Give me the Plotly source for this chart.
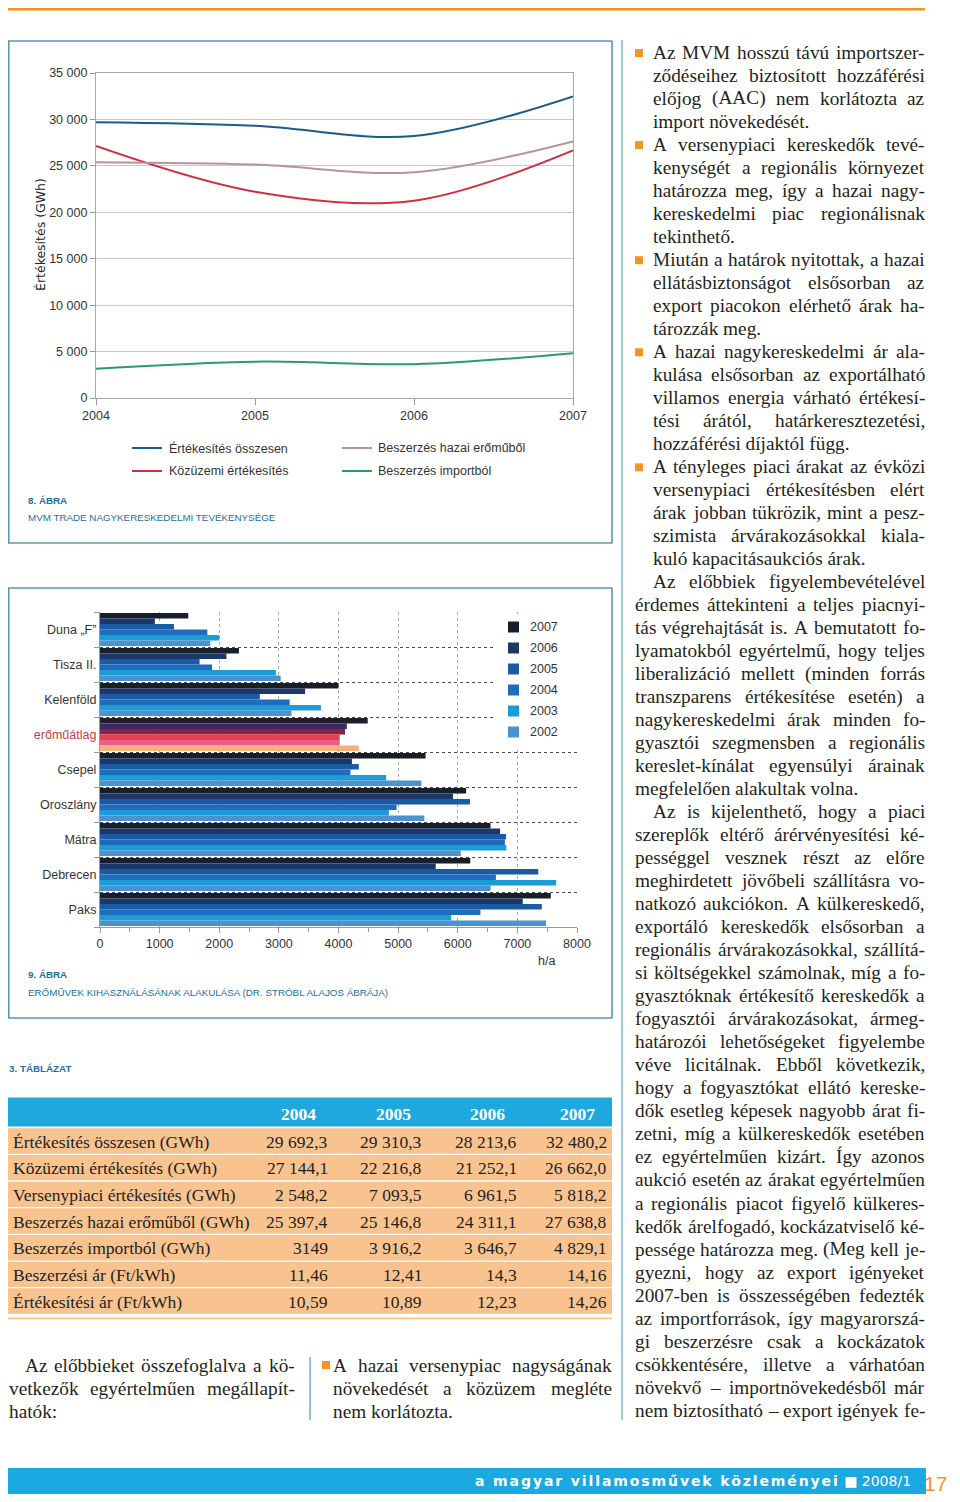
import plotly.graph_objects as go

# The page body adds an 8 px margin on every side; the figure is sized to fit inside
# the 960 x 1502 window and every coordinate below is a page pixel.
OFF = 8
W, H = 960 - 2 * OFF, 1502 - 2 * OFF
def X(px): return (px - OFF) / W
def Y(py): return 1 - (py - OFF) / H

COND = "Liberation Sans, Arial, sans-serif"
SERIF = "Liberation Serif, Times New Roman, serif"
CAP_BLUE = "#1b6ea4"
ORANGE = "#f7941d"
INK = "#231f20"
AXIS_TXT = "#333333"
AX_FS = 12.5
CAP_FS = 9.8

# ---------------- Figure 8 data ----------------
years = [2004, 2005, 2006, 2007]
series_names = ["Értékesítés összesen", "Közüzemi értékesítés",
                "Beszerzés hazai erőműből", "Beszerzés importból"]
sales_total = [29692.3, 29310.3, 28213.6, 32480.2]
public_sales = [27144.1, 22216.8, 21252.1, 26662.0]
domestic_purchase = [25397.4, 25146.8, 24311.1, 27638.8]
import_purchase = [3149.0, 3916.2, 3646.7, 4829.1]
line_colors = ["#1b5a8c", "#d3303f", "#b8929e", "#2a9c6c"]
y_tick_vals = [0, 5000, 10000, 15000, 20000, 25000, 30000, 35000]
y_tick_text = ["0", "5 000", "10 000", "15 000", "20 000", "25 000", "30 000", "35 000"]

# ---------------- Figure 9 data ----------------
plants = ["Duna „F”", "Tisza II.", "Kelenföld", "erőműátlag", "Csepel",
          "Oroszlány", "Mátra", "Debrecen", "Paks"]
bar_years = ["2007", "2006", "2005", "2004", "2003", "2002"]
util_2007 = [1480, 2330, 4000, 4490, 5460, 6140, 6550, 6210, 7560]
util_2006 = [920, 2120, 3440, 4140, 4225, 5920, 6710, 5630, 7090]
util_2005 = [1240, 1670, 2680, 4110, 4340, 6205, 6810, 7350, 7410]
util_2004 = [1800, 1880, 3180, 4020, 4200, 4975, 6790, 6640, 6380]
util_2003 = [2000, 2950, 3705, 4020, 4800, 4845, 6815, 7650, 5890]
util_2002 = [1850, 3030, 3210, 4340, 5390, 5440, 6050, 6550, 7480]
year_colors = ["#17202a", "#1c3768", "#1b5aa5", "#1f6cba", "#1b9bd8", "#4a93d0"]
avg_colors = ["#221d2b", "#3d2866", "#8d2142", "#e3414c", "#ea5c8c", "#f6b07b"]
x2_ticks = [0, 1000, 2000, 3000, 4000, 5000, 6000, 7000, 8000]

# ---------------- Table 3 data ----------------
table_header = ["2004", "2005", "2006", "2007"]
table_labels = ["Értékesítés összesen (GWh)", "Közüzemi értékesítés (GWh)",
                "Versenypiaci értékesítés (GWh)", "Beszerzés hazai erőműből (GWh)",
                "Beszerzés importból (GWh)", "Beszerzési ár (Ft/kWh)",
                "Értékesítési ár (Ft/kWh)"]
table_values = [
    ["29 692,3", "29 310,3", "28 213,6", "32 480,2"],
    ["27 144,1", "22 216,8", "21 252,1", "26 662,0"],
    ["2 548,2", "7 093,5", "6 961,5", "5 818,2"],
    ["25 397,4", "25 146,8", "24 311,1", "27 638,8"],
    ["3149", "3 916,2", "3 646,7", "4 829,1"],
    ["11,46", "12,41", "14,3", "14,16"],
    ["10,59", "10,89", "12,23", "14,26"],
]

# ---------------- body text ----------------
right_blocks = [
    ("b", ["Az MVM hosszú távú importszer-", "ződéseihez biztosított hozzáférési",
           "előjog (AAC) nem korlátozta az", "import növekedését."]),
    ("b", ["A versenypiaci kereskedők tevé-", "kenységét a regionális környezet",
           "határozza meg, így a hazai nagy-", "kereskedelmi piac regionálisnak", "tekinthető."]),
    ("b", ["Miután a határok nyitottak, a hazai", "ellátásbiztonságot elsősorban az",
           "export piacokon elérhető árak ha-", "tározzák meg."]),
    ("b", ["A hazai nagykereskedelmi ár ala-", "kulása elsősorban az exportálható",
           "villamos energia várható értékesí-", "tési árától, határkeresztezetési,",
           "hozzáférési díjaktól függ."]),
    ("b", ["A tényleges piaci árakat az évközi", "versenypiaci értékesítésben elért",
           "árak jobban tükrözik, mint a pesz-", "szimista árvárakozásokkal kiala-",
           "kuló kapacitásaukciós árak."]),
    ("p", ["Az előbbiek figyelembevételével", "érdemes áttekinteni a teljes piacnyi-",
           "tás végrehajtását is. A bemutatott fo-", "lyamatokból egyértelmű, hogy teljes",
           "liberalizáció mellett (minden forrás", "transzparens értékesítése esetén) a",
           "nagykereskedelmi árak minden fo-", "gyasztói szegmensben a regionális",
           "kereslet-kínálat egyensúlyi árainak", "megfelelően alakultak volna."]),
    ("pc", ["Az is kijelenthető, hogy a piaci", "szereplők eltérő árérvényesítési ké-",
            "pességgel vesznek részt az előre", "meghirdetett jövőbeli szállításra vo-",
            "natkozó aukciókon. A külkereskedő,", "exportáló kereskedők elsősorban a",
            "regionális árvárakozásokkal, szállítá-", "si költségekkel számolnak, míg a fo-",
            "gyasztóknak értékesítő kereskedők a", "fogyasztói árvárakozásokat, ármeg-",
            "határozói lehetőségeket figyelembe", "véve licitálnak. Ebből következik,",
            "hogy a fogyasztókat ellátó kereske-", "dők esetleg képesek nagyobb árat fi-",
            "zetni, míg a külkereskedők esetében", "ez egyértelműen kizárt. Így azonos",
            "aukció esetén az árakat egyértelműen", "a regionális piacot figyelő külkeres-",
            "kedők árelfogadó, kockázatviselő ké-", "pessége határozza meg. (Meg kell je-",
            "gyezni, hogy az export igényeket", "2007-ben is összességében fedezték",
            "az importforrások, így magyarorszá-", "gi beszerzésre csak a kockázatok",
            "csökkentésére, illetve a várhatóan", "növekvő – importnövekedésből már",
            "nem biztosítható – export igények fe-"]),
]
left_para = ["Az előbbieket összefoglalva a kö-", "vetkezők egyértelműen megállapít-", "hatók:"]
mid_bullet = ["A hazai versenypiac nagyságának", "növekedését a közüzem megléte", "nem korlátozta."]

# ---------------- helpers ----------------
anns, shapes = [], []

def ann(text, x, y, size, family, color=INK, xanchor="left", yanchor="middle", **kw):
    d = dict(text=text, x=X(x), y=Y(y), xref="paper", yref="paper", showarrow=False,
             xanchor=xanchor, yanchor=yanchor, borderpad=0, borderwidth=0,
             font=dict(size=size, family=family, color=color))
    d.update(kw)
    anns.append(d)

def rect(x0, y0, x1, y1, fill, layer="below", line=None):
    shapes.append(dict(type="rect", xref="paper", yref="paper", x0=X(x0), x1=X(x1),
                       y0=Y(y1), y1=Y(y0), fillcolor=fill, layer=layer,
                       line=line if line else dict(width=0)))

def seg(x0, y0, x1, y1, color, width, layer="below"):
    shapes.append(dict(type="line", xref="paper", yref="paper", x0=X(x0), x1=X(x1),
                       y0=Y(y0), y1=Y(y1), line=dict(color=color, width=width), layer=layer))

TW = {' ': 250, '!': 333, '(': 333, ')': 333, ',': 250, '-': 333, '.': 250, '/': 278,
      ':': 278, ';': 278, '?': 444, '–': 500,
      'A': 722, 'B': 667, 'C': 667, 'D': 722, 'E': 611, 'F': 556, 'G': 722, 'H': 722,
      'I': 333, 'J': 389, 'K': 722, 'L': 611, 'M': 889, 'N': 722, 'O': 722, 'P': 556,
      'Q': 722, 'R': 667, 'S': 556, 'T': 611, 'U': 722, 'V': 722, 'W': 944, 'X': 722,
      'Y': 722, 'Z': 611,
      'a': 444, 'b': 500, 'c': 444, 'd': 500, 'e': 444, 'f': 333, 'g': 500, 'h': 500,
      'i': 278, 'j': 278, 'k': 500, 'l': 278, 'm': 778, 'n': 500, 'o': 500, 'p': 500,
      'q': 500, 'r': 333, 's': 389, 't': 278, 'u': 500, 'v': 500, 'w': 722, 'x': 500,
      'y': 500, 'z': 444}
for dgt in "0123456789":
    TW[dgt] = 500
ACC = str.maketrans("áéíóöőúüűÁÉÍÓÖŐÚÜŰ", "aeiooouuuAEIOOOUUU")

def tw(s, fs):
    return sum(TW.get(c, 500) for c in s.translate(ACC)) / 1000.0 * fs

BODY_FS = 19.3

def text_line(text, x0, x1, y, justify, fs=BODY_FS):
    if not justify:
        ann(text, x0, y, fs, SERIF)
        return
    words = text.split(" ")
    if len(words) == 1:
        ann(text, x0, y, fs, SERIF)
        return
    widths = [tw(w, fs) for w in words]
    gap = (x1 - x0 - sum(widths)) / (len(words) - 1)
    xx = x0
    for i, (w, wd) in enumerate(zip(words, widths)):
        if i == len(words) - 1:
            ann(w, x1, y, fs, SERIF, xanchor="right")
        else:
            ann(w, xx, y, fs, SERIF)
        xx += wd + gap

# ---------------- figure ----------------
fig = go.Figure()

for name, vals, col in zip(series_names,
                           [sales_total, public_sales, domestic_purchase, import_purchase],
                           line_colors):
    fig.add_trace(go.Scatter(x=years, y=vals, name=name, mode="lines",
                             line=dict(color=col, width=2, shape="spline", smoothing=1.0),
                             xaxis="x", yaxis="y", hoverinfo="skip"))

util = [util_2007, util_2006, util_2005, util_2004, util_2003, util_2002]
for i, yr in enumerate(bar_years):
    cols = [avg_colors[i] if p == "erőműátlag" else year_colors[i] for p in plants]
    fig.add_trace(go.Bar(x=util[i], y=plants, orientation="h", name=yr,
                         marker=dict(color=cols, line=dict(width=0)),
                         xaxis="x2", yaxis="y2", hoverinfo="skip"))

plant_ticktext = [f'<span style="color:#c8394a">{p}</span>' if p == "erőműátlag" else p
                  for p in plants]

axis_font = dict(family=COND, size=AX_FS, color=AXIS_TXT)

fig.update_layout(
    width=W, height=H, margin=dict(l=0, r=0, t=0, b=0, pad=0, autoexpand=False),
    paper_bgcolor="white", plot_bgcolor="rgba(0,0,0,0)", showlegend=False,
    barmode="group", bargap=0.06, bargroupgap=0,
    xaxis=dict(domain=[X(96), X(573)], range=[2004, 2007], anchor="y",
               tickvals=years, ticktext=[str(y) for y in years], ticks="outside",
               ticklen=6, tickcolor="#9a9a9a", showline=True, linecolor="#a8a8a8",
               linewidth=1.2, mirror=True, showgrid=False, zeroline=False,
               tickfont=axis_font, fixedrange=True),
    yaxis=dict(domain=[Y(398), Y(73)], range=[0, 35000], anchor="x",
               tickvals=y_tick_vals, ticktext=y_tick_text, ticks="outside", ticklen=5,
               tickcolor="#9a9a9a", showline=True, linecolor="#a8a8a8", linewidth=1.2,
               mirror=True, showgrid=True, gridcolor="#c9c9c9", gridwidth=1.2,
               zeroline=False, tickfont=axis_font, fixedrange=True),
    xaxis2=dict(domain=[X(100), X(577)], range=[0, 8000], anchor="y2",
                tickvals=x2_ticks, ticktext=[str(v) for v in x2_ticks],
                ticks="outside", ticklen=5, tickcolor="#9a9a9a",
                minor=dict(dtick=500, tick0=0, ticks="outside", ticklen=4, tickcolor="#9a9a9a",
                           showgrid=False),
                showline=True, linecolor="#9a9a9a", linewidth=1.2,
                showgrid=True, gridcolor="#a9a9a9", griddash="dot", gridwidth=1,
                zeroline=False, tickfont=axis_font, fixedrange=True),
    yaxis2=dict(domain=[Y(927), Y(612)], anchor="x2", type="category",
                categoryorder="array", categoryarray=plants, autorange="reversed",
                tickvals=plants, ticktext=plant_ticktext, tickson="boundaries",
                ticks="outside", ticklen=5, tickcolor="#9a9a9a",
                showline=True, linecolor="#9a9a9a", linewidth=1.2,
                showgrid=True, gridcolor="#4a4a4a", griddash="dot", gridwidth=1.2,
                zeroline=False, tickfont=axis_font, fixedrange=True),
)

# ---------------- page decorations ----------------
rect(8, 8, 925, 10.5, ORANGE)
BOX = "#5d98ae"
rect(8.8, 41, 612, 543, "rgba(0,0,0,0)", line=dict(color=BOX, width=1.6))
rect(8.8, 588, 612, 1018, "rgba(0,0,0,0)", line=dict(color=BOX, width=1.6))
seg(622, 40, 622, 1420, "#8cc7df", 1.8)

# y-axis title fig 8
ann("Értékesítés (GWh)", 41, 235, 12.5, "DejaVu Sans", color="#222", xanchor="center",
    textangle=-90)

# line legend
leg_pos = [(132, 162, 169, 448), (132, 162, 169, 471), (342, 372, 378, 448), (342, 372, 378, 471)]
for (x0, x1, xt, yy), name, col in zip(leg_pos, series_names, line_colors):
    seg(x0, yy, x1, yy, col, 2, layer="above")
    ann(name, xt, yy, AX_FS, COND, color=AXIS_TXT)

ann("<b>8. ÁBRA</b>", 28, 500, CAP_FS, COND, color=CAP_BLUE)
ann("MVM TRADE NAGYKERESKEDELMI TEVÉKENYSÉGE", 28, 517, CAP_FS, COND, color=CAP_BLUE)

# bar legend (white backing)
rect(494, 614, 580, 748, "white", layer="above")
for i, yr in enumerate(bar_years):
    yy = 627 + i * 21
    rect(508, yy - 5.5, 519, yy + 5.5, year_colors[i], layer="above")
    ann(yr, 530, yy, AX_FS, COND, color=AXIS_TXT)

ann("h/a", 546, 961, AX_FS, COND, color=AXIS_TXT, xanchor="center")
ann("<b>9. ÁBRA</b>", 28, 974, CAP_FS, COND, color=CAP_BLUE)
ann("ERŐMŰVEK KIHASZNÁLÁSÁNAK ALAKULÁSA (DR. STRÓBL ALAJOS ÁBRÁJA)", 28, 993, CAP_FS, COND,
    color=CAP_BLUE)

# ---------------- table ----------------
ann("<b>3. TÁBLÁZAT</b>", 9, 1068, CAP_FS, COND, color=CAP_BLUE)
TBL_CYAN = "#1ea8de"
TBL_PEACH = "#f9c390"
rect(8, 1097.5, 612, 1126.5, TBL_CYAN)
hdr_x = [298.5, 393, 487.5, 577]
for hx, h in zip(hdr_x, table_header):
    ann(f"<b>{h}</b>", hx, 1113.5, 17.5, SERIF, color="white", xanchor="center")
val_x = [328, 422, 517, 607]
for r, (lab, vals) in enumerate(zip(table_labels, table_values)):
    top = 1128.3 + r * 26.67
    rect(8, top, 612, top + 25.4, TBL_PEACH)
    cy = top + 13.5
    ann(lab, 13, cy, 17.5, SERIF, color=INK)
    for vx, v in zip(val_x, vals):
        ann(v, vx, cy, 17.5, SERIF, color=INK, xanchor="right")
rect(8, 1317.6, 612, 1319.2, TBL_PEACH)

# ---------------- bottom text ----------------
LINE_STEP = 23.02
for i, t in enumerate(left_para):
    x0 = 24.5 if i == 0 else 8.5
    text_line(t, x0, 294.5, 1365 + i * LINE_STEP, justify=(i < len(left_para) - 1))
seg(310, 1357, 310, 1420, "#6fb8cf", 1.6)
rect(322, 1361, 330, 1369, ORANGE)
for i, t in enumerate(mid_bullet):
    text_line(t, 333, 612, 1365 + i * LINE_STEP, justify=(i < len(mid_bullet) - 1))

# ---------------- right column ----------------
line_idx = 0
R_LEFT, R_IND, R_RIGHT = 635, 653, 925
for kind, lines in right_blocks:
    for j, t in enumerate(lines):
        yy = 52 + line_idx * LINE_STEP
        last = (j == len(lines) - 1)
        justify = (not last) or kind == "pc"
        if kind == "b":
            x0 = R_IND
            if j == 0:
                rect(635, yy - 3, 643, yy + 5, ORANGE)
        else:
            x0 = R_IND if j == 0 else R_LEFT
        text_line(t, x0, R_RIGHT, yy, justify)
        line_idx += 1

# ---------------- footer ----------------
rect(8, 1468, 926, 1494, "#1aa9e0")
ann('<b><span style="letter-spacing:1.9px">a magyar villamosművek közleményei</span></b>'
    ' <b>■</b> 2008/1', 911, 1481, 14, "DejaVu Sans", color="white", xanchor="right")
ann("17", 935, 1483, 21, COND, color=ORANGE, xanchor="center")

fig.update_layout(annotations=anns, shapes=shapes)
fig.write_html("out.html")
